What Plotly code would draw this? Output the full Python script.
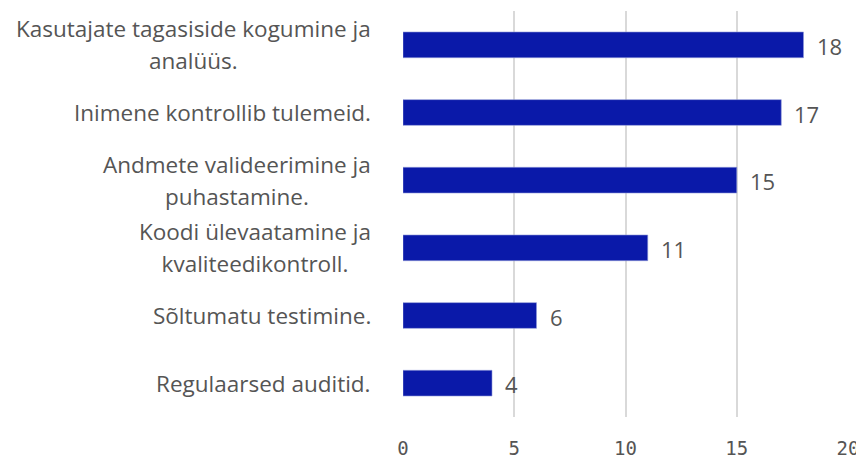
import plotly.graph_objects as go

categories = [
    "Regulaarsed auditid.",
    "Sõltumatu testimine.",
    "Koodi ülevaatamine ja<br>kvaliteedikontroll.",
    "Andmete valideerimine ja<br>puhastamine.",
    "Inimene kontrollib tulemeid.",
    "Kasutajate tagasiside kogumine ja<br>analüüs.",
]
values = [4, 6, 11, 15, 17, 18]
x_ticks = [0, 5, 10, 15, 20]

BAR = "#0a19a9"
TXT = "#555555"
FONT = "Open Sans, Noto Sans, sans-serif"

fig = go.Figure()
fig.add_trace(go.Bar(
    y=categories,
    x=values,
    orientation="h",
    marker=dict(color=BAR, line=dict(color="#8f98d8", width=0.6)),
    width=0.38,
    hoverinfo="skip",
))

# category labels: right-anchored block, lines centered inside it.
# outer font size sets the (looser) line spacing, inner span the glyph size
for cat in categories:
    txt = "<br>".join(
        f'<span style="font-size:22.5px">{ln}</span>' for ln in cat.split("<br>")
    )
    fig.add_annotation(
        x=0, xref="paper", y=cat, yref="y",
        text=txt, showarrow=False,
        xanchor="right", align="center", xshift=-30, yshift=0,
        font=dict(family=FONT, size=24.5, color=TXT),
    )

# value labels
for cat, v in zip(categories, values):
    fig.add_annotation(
        x=v, y=cat, text=str(v), showarrow=False,
        xanchor="left", xshift=11, yshift=-1,
        font=dict(family=FONT, size=22, color=TXT),
    )

# page body has an 8px margin, so the figure is sized to fit the window
fig.update_layout(
    width=856,
    height=454,
    margin=dict(l=395, r=16, t=3, b=43),
    plot_bgcolor="white",
    paper_bgcolor="white",
    showlegend=False,
    bargap=0.62,
)
fig.update_xaxes(
    range=[0, 20],
    tickvals=x_ticks,
    showgrid=True,
    gridcolor="#d9d9d9",
    gridwidth=2,
    zeroline=False,
    showline=False,
    ticks="",
    ticklabelstandoff=18,
    tickfont=dict(family="DejaVu Sans Mono, monospace", size=19, color=TXT),
)
fig.update_yaxes(
    showticklabels=False,
    showgrid=False,
    zeroline=False,
    ticks="",
)

fig.write_html("out.html")
